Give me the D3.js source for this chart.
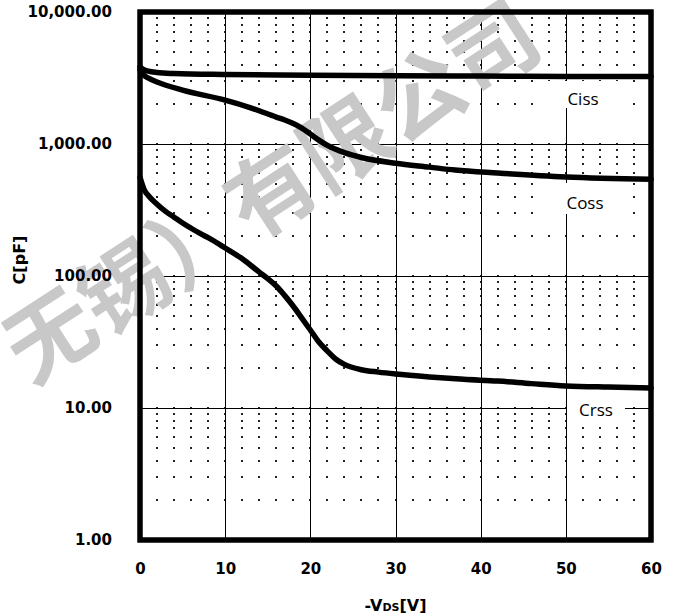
<!DOCTYPE html>
<html lang="en">
<head>
<meta charset="UTF-8">
<title>Capacitance vs -VDS</title>
<script src="https://d3js.org/d3.v7.min.js"></script>
<style>
  body { margin: 0; background: #fff; }
  .tick text { font-family: "DejaVu Sans", Verdana, sans-serif; font-weight: bold; font-size: 15px; fill: #000; }
  .major { stroke: #000; stroke-width: 1; shape-rendering: crispEdges; }
  .dot { fill: #222; }
  .curve { fill: none; stroke: #000; stroke-width: 5.5; stroke-linejoin: round; stroke-linecap: round; }
  .frame { fill: none; stroke: #000; stroke-width: 5.5; }
  .lbl { font-family: "Open Sans", sans-serif; font-size: 17px; fill: #000; }
  .title { font-family: "DejaVu Sans", Verdana, sans-serif; font-weight: bold; font-size: 16px; fill: #000; }
  .wm { font-family: "Noto Sans CJK SC", sans-serif; font-weight: bold; font-size: 88px; fill: #c8c8c8; }
</style>
</head>
<body>
<svg width="678" height="616"></svg>
<script>
  // data
  const xTicks = [0, 10, 20, 30, 40, 50, 60];
  const yTicks = [1, 10, 100, 1000, 10000];

  const cissV = [0, 0.3, 1, 2, 4, 10, 20, 30, 40, 50, 60];
  const ciss  = [3850, 3700, 3560, 3480, 3420, 3360, 3320, 3290, 3270, 3250, 3240];

  const cossV = [0, 0.5, 1, 2, 5, 10, 13, 16, 17, 18, 19, 20, 21, 22, 24, 26, 30, 34, 37, 42, 50, 60];
  const coss  = [3650, 3300, 3150, 2950, 2560, 2150, 1880, 1600, 1520, 1430, 1320, 1190, 1070, 975, 860, 790, 715, 668, 635, 603, 563, 540];

  const crssV = [0, 0.5, 1, 2, 3, 4, 5, 6, 7, 8, 10, 12, 14, 15, 16, 17, 18, 19, 20, 21, 22, 23, 24, 26, 28, 30, 34, 38, 42, 46, 50, 55, 60];
  const crss  = [560, 450, 405, 350, 309, 279, 252, 230, 211, 195, 163, 135, 107, 95.5, 84, 71, 59, 48, 39, 31.6, 27, 23.4, 21.4, 19.5, 18.7, 18.1, 17.2, 16.5, 16.0, 15.3, 14.7, 14.4, 14.2];

  const labels = ["Ciss", "Coss", "Crss"];
  const watermark = "无锡）有限公司";

  const mLeft = 140, mTop = 12, mRight = 651, mBottom = 540;
  const svg = d3.select("svg");

  const x = d3.scaleLinear().domain([0, 60]).range([mLeft, mRight]);
  const y = d3.scaleLog().domain([1, 10000]).range([mBottom, mTop]);

  // dotted minor grid: dots at every intersection
  const xMinor = d3.range(0, 61, 2);
  const yMinor = [];
  [1, 10, 100, 1000].forEach(d => { for (let k = 1; k <= 9; k++) yMinor.push(d * k); });
  yMinor.push(10000);
  const dots = [];
  xMinor.forEach(a => yMinor.forEach(b => dots.push([a, b])));
  svg.append("g").selectAll("rect").data(dots).enter().append("rect")
    .attr("class", "dot")
    .attr("x", d => Math.round(x(d[0])) - 1)
    .attr("y", d => Math.round(y(d[1])) - 1)
    .attr("width", 2).attr("height", 2);

  // major grid
  svg.append("g").selectAll("line.v").data(xTicks.slice(1, -1)).enter().append("line")
    .attr("class", "major")
    .attr("x1", d => Math.round(x(d)) + 0.5).attr("x2", d => Math.round(x(d)) + 0.5)
    .attr("y1", mTop).attr("y2", mBottom);
  svg.append("g").selectAll("line.h").data(yTicks.slice(1, -1)).enter().append("line")
    .attr("class", "major")
    .attr("y1", d => Math.round(y(d)) + 0.5).attr("y2", d => Math.round(y(d)) + 0.5)
    .attr("x1", mLeft).attr("x2", mRight);

  // watermark
  svg.append("text").attr("class", "wm")
    .attr("text-anchor", "middle")
    .attr("dominant-baseline", "central")
    .attr("transform", "translate(268,186) rotate(-33)")
    .text(watermark);

  // label boxes (white) over the grid
  const boxes = [
    { x: 545, y: 81, w: 82, h: 27, tx: 583, ty: 98 },
    { x: 542, y: 183, w: 86, h: 31, tx: 585, ty: 202 },
    { x: 567, y: 394, w: 58, h: 30, tx: 596, ty: 409 }
  ];
  svg.append("g").selectAll("rect").data(boxes).enter().append("rect")
    .attr("x", d => d.x).attr("y", d => d.y).attr("width", d => d.w).attr("height", d => d.h)
    .attr("fill", "#fff");
  svg.append("g").selectAll("text").data(boxes).enter().append("text")
    .attr("class", "lbl")
    .attr("x", d => d.tx).attr("y", d => d.ty)
    .attr("text-anchor", "middle").attr("dominant-baseline", "central")
    .text((d, i) => labels[i]);

  // curves
  const line = d3.line().x(d => x(d[0])).y(d => y(d[1])).curve(d3.curveMonotoneX);
  [[cissV, ciss], [cossV, coss], [crssV, crss]].forEach(([vs, cs]) => {
    svg.append("path").attr("class", "curve")
      .attr("d", line(vs.map((v, i) => [v, cs[i]])));
  });

  // frame
  svg.append("rect").attr("class", "frame")
    .attr("x", mLeft).attr("y", mTop).attr("width", mRight - mLeft).attr("height", mBottom - mTop);

  // axes
  const yAxis = d3.axisLeft(y).tickValues(yTicks).tickSize(0).tickPadding(28).tickFormat(d3.format(",.2f"));
  svg.append("g").attr("transform", `translate(${mLeft},0)`).call(yAxis)
    .call(g => g.select(".domain").remove());
  const xAxis = d3.axisBottom(x).tickValues(xTicks).tickSize(0).tickPadding(23).tickFormat(d3.format("d"));
  svg.append("g").attr("transform", `translate(0,${mBottom})`).call(xAxis)
    .call(g => g.select(".domain").remove());

  // axis titles
  svg.append("text").attr("class", "title")
    .attr("transform", "translate(25,260) rotate(-90)")
    .attr("text-anchor", "middle")
    .text("C[pF]");
  const xt = svg.append("text").attr("class", "title")
    .attr("x", x(30)).attr("y", 611).attr("text-anchor", "middle");
  xt.append("tspan").text("-V");
  xt.append("tspan").attr("font-size", "11px").text("DS");
  xt.append("tspan").text("[V]");
</script>
</body>
</html>
